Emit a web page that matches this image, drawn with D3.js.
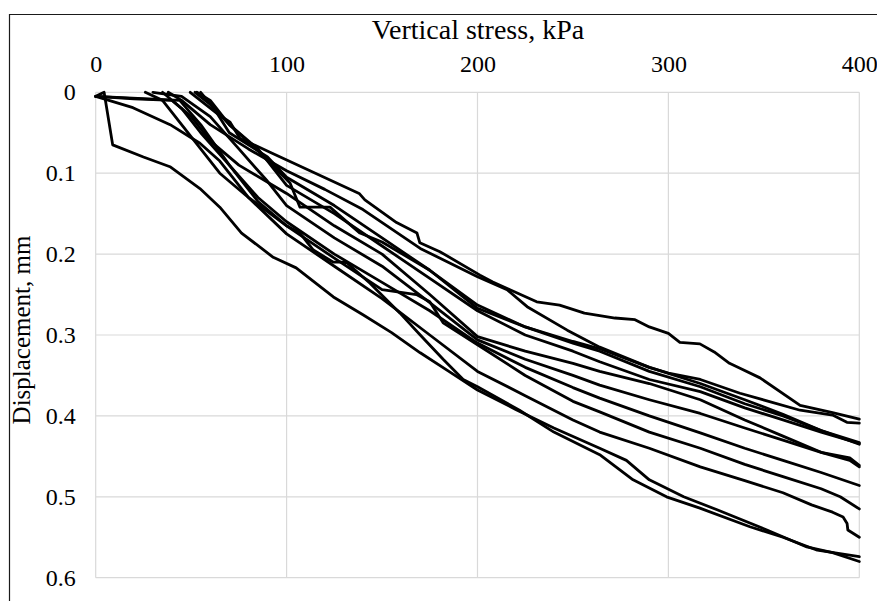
<!DOCTYPE html>
<html>
<head>
<meta charset="utf-8">
<script src="https://cdn.jsdelivr.net/npm/d3@7"></script>
<style>
  html, body { margin: 0; padding: 0; background: #fff; }
  svg { display: block; }
  text { font-family: "Liberation Serif", "Times New Roman", serif; fill: #000; }
</style>
</head>
<body>
<svg id="chart" width="877" height="601"></svg>
<script>
// ---- data (vertical stress kPa, displacement mm) ----
const xTicks = [0, 100, 200, 300, 400];
const yTicks = [0, 0.1, 0.2, 0.3, 0.4, 0.5, 0.6];
const xTitle = "Vertical stress, kPa";
const yTitle = "Displacement, mm";

const test1 = [[0,0.005],[4.4,0],[8.9,0.065],[25,0.08],[38.9,0.092],[54.6,0.119],[65,0.142],[76.4,0.174],[93,0.204],[105,0.217],[124.5,0.253],[140,0.275],[155,0.297],[170,0.322],[185,0.345],[200,0.368],[220,0.392],[240,0.415],[264,0.44],[278,0.455],[290,0.479],[308,0.5],[325.5,0.516],[351.6,0.541],[372.5,0.562],[386,0.569],[400,0.58]];
const test2 = [[0,0.005],[44,0.01],[55,0.04],[70,0.09],[85,0.135],[100,0.165],[107,0.174],[114,0.195],[124.5,0.21],[129.7,0.21],[131.7,0.211],[143.7,0.236],[159.4,0.273],[170,0.3],[182,0.33],[192.5,0.355],[200,0.364],[222,0.393],[240,0.42],[264,0.448],[281.5,0.479],[299,0.5],[316.5,0.514],[342.7,0.537],[360,0.55],[378,0.566],[400,0.574]];
const test3 = [[0,0.005],[19.5,0.019],[39,0.04],[54.6,0.063],[65,0.085],[80,0.13],[100,0.175],[125,0.215],[150,0.255],[175,0.3],[200,0.345],[225,0.375],[250,0.405],[264,0.42],[290,0.44],[316.7,0.463],[340,0.48],[360,0.495],[375,0.51],[386,0.519],[391.5,0.525],[393.6,0.533],[394,0.541],[400,0.55]];
const test4 = [[26,0],[35,0.01],[45,0.04],[55,0.07],[65,0.1],[80,0.13],[100,0.165],[125,0.205],[150,0.244],[168,0.25],[175,0.259],[182,0.285],[200,0.312],[225,0.35],[250,0.382],[264,0.395],[290,0.42],[316.7,0.44],[340,0.46],[360,0.475],[380,0.49],[390,0.5],[400,0.515]];
const test5 = [[35,0],[45,0.02],[55,0.05],[70,0.09],[85,0.13],[100,0.16],[125,0.2],[150,0.235],[175,0.27],[200,0.31],[225,0.34],[250,0.365],[264,0.378],[290,0.4],[316.7,0.421],[340,0.44],[360,0.455],[380,0.47],[400,0.486]];
const test6 = [[30,0],[45,0.005],[60,0.03],[75,0.07],[90,0.11],[100,0.14],[125,0.18],[150,0.215],[175,0.26],[200,0.306],[225,0.33],[250,0.35],[264,0.362],[290,0.38],[316.7,0.397],[340,0.415],[360,0.43],[380,0.445],[395,0.452],[400,0.461]];
const test7 = [[0,0.005],[20,0.008],[40,0.01],[50,0.03],[60,0.06],[75,0.09],[100,0.125],[125,0.165],[150,0.2],[175,0.25],[200,0.302],[225,0.32],[250,0.335],[264,0.345],[290,0.36],[316.7,0.38],[340,0.405],[360,0.425],[380,0.445],[395,0.455],[400,0.463]];
const test8 = [[52,0],[60,0.015],[70,0.04],[85,0.07],[100,0.115],[125,0.15],[150,0.19],[175,0.23],[200,0.27],[225,0.3],[250,0.32],[264,0.333],[290,0.355],[316.7,0.37],[340,0.39],[360,0.405],[380,0.42],[400,0.434]];
const test9 = [[55,0],[62,0.02],[70,0.05],[80,0.065],[90,0.08],[100,0.105],[125,0.14],[150,0.18],[175,0.22],[200,0.267],[225,0.29],[250,0.31],[264,0.32],[290,0.345],[316.7,0.364],[340,0.385],[360,0.4],[380,0.418],[400,0.435]];
const test10 = [[53,0],[60,0.01],[70,0.04],[84.5,0.071],[101.8,0.112],[107,0.142],[122.7,0.142],[138.4,0.174],[150,0.185],[175,0.22],[200,0.263],[225,0.29],[250,0.308],[264,0.317],[290,0.34],[316.7,0.36],[340,0.38],[360,0.398],[380,0.418],[400,0.433]];
const test11 = [[38,0],[45,0.01],[60,0.04],[80,0.07],[100,0.097],[120,0.12],[140,0.145],[170,0.193],[200,0.228],[215.5,0.244],[226,0.265],[247,0.294],[264,0.315],[290,0.34],[300,0.347],[316.7,0.355],[337.5,0.372],[369,0.393],[386,0.399],[393.5,0.408],[400,0.409]];
const test12 = [[49.5,0],[63.5,0.026],[70.4,0.037],[75.6,0.057],[91.3,0.074],[138,0.125],[141,0.133],[157.6,0.161],[168.3,0.174],[169.8,0.186],[180.3,0.197],[201.3,0.226],[208,0.2345],[217,0.244],[231,0.259],[243,0.263],[256,0.273],[272,0.279],[282.5,0.281],[290,0.29],[300,0.298],[306,0.309],[316.5,0.311],[324,0.321],[332,0.335],[337.5,0.341],[348,0.353],[369,0.387],[386,0.396],[400,0.404]];

const seriesList = [test1, test2, test3, test4, test5, test6, test7, test8, test9, test10, test11, test12];

// ---- layout ----
const svg = d3.select("#chart");
const plot = { left: 95.7, right: 859.3, top: 92.3, bottom: 577.7 };

const x = d3.scaleLinear().domain([0, 400]).range([plot.left, plot.right]);
const y = d3.scaleLinear().domain([0, 0.6]).range([plot.top, plot.bottom]);

// outer chart border (cropped on right and bottom)
svg.append("path")
  .attr("d", `M9.5,610 L9.5,14.5 L890,14.5`)
  .attr("fill", "none").attr("stroke", "#1a1a1a").attr("stroke-width", 1.2);

// gridlines
const grid = svg.append("g");
grid.selectAll("line.v").data(xTicks).join("line")
  .attr("x1", d => x(d)).attr("x2", d => x(d))
  .attr("y1", plot.top).attr("y2", plot.bottom)
  .attr("stroke", "#d9d9d9").attr("stroke-width", 1.2);
grid.selectAll("line.h").data(yTicks).join("line")
  .attr("x1", plot.left).attr("x2", plot.right)
  .attr("y1", d => y(d)).attr("y2", d => y(d))
  .attr("stroke", "#d9d9d9").attr("stroke-width", 1.2);

// top x axis
const xAxis = d3.axisTop(x).tickValues(xTicks).tickSize(0).tickPadding(0).tickFormat(d3.format("d"));
const gx = svg.append("g").attr("transform", `translate(0,${plot.top - 20})`).call(xAxis);
gx.select(".domain").remove();
gx.selectAll("text").attr("font-size", 24).attr("font-family", "Liberation Serif");

// left y axis
const yAxis = d3.axisLeft(y).tickValues(yTicks).tickSize(0).tickPadding(0).tickFormat(d => d === 0 ? "0" : d3.format(".1f")(d));
const gy = svg.append("g").attr("transform", `translate(${plot.left - 20},0)`).call(yAxis);
gy.select(".domain").remove();
gy.selectAll("text").attr("font-size", 24).attr("font-family", "Liberation Serif");

// titles
svg.append("text").attr("x", 478).attr("y", 39).attr("text-anchor", "middle")
  .attr("font-size", 28).text(xTitle);
svg.append("text").attr("transform", "translate(30,330) rotate(-90)")
  .attr("text-anchor", "middle").attr("font-size", 25).text(yTitle);

// curves
const line = d3.line().x(d => x(d[0])).y(d => y(d[1]));
svg.append("g").selectAll("path").data(seriesList).join("path")
  .attr("d", line)
  .attr("fill", "none").attr("stroke", "#000").attr("stroke-width", 2.8)
  .attr("stroke-linejoin", "round").attr("stroke-linecap", "round");
</script>
</body>
</html>
